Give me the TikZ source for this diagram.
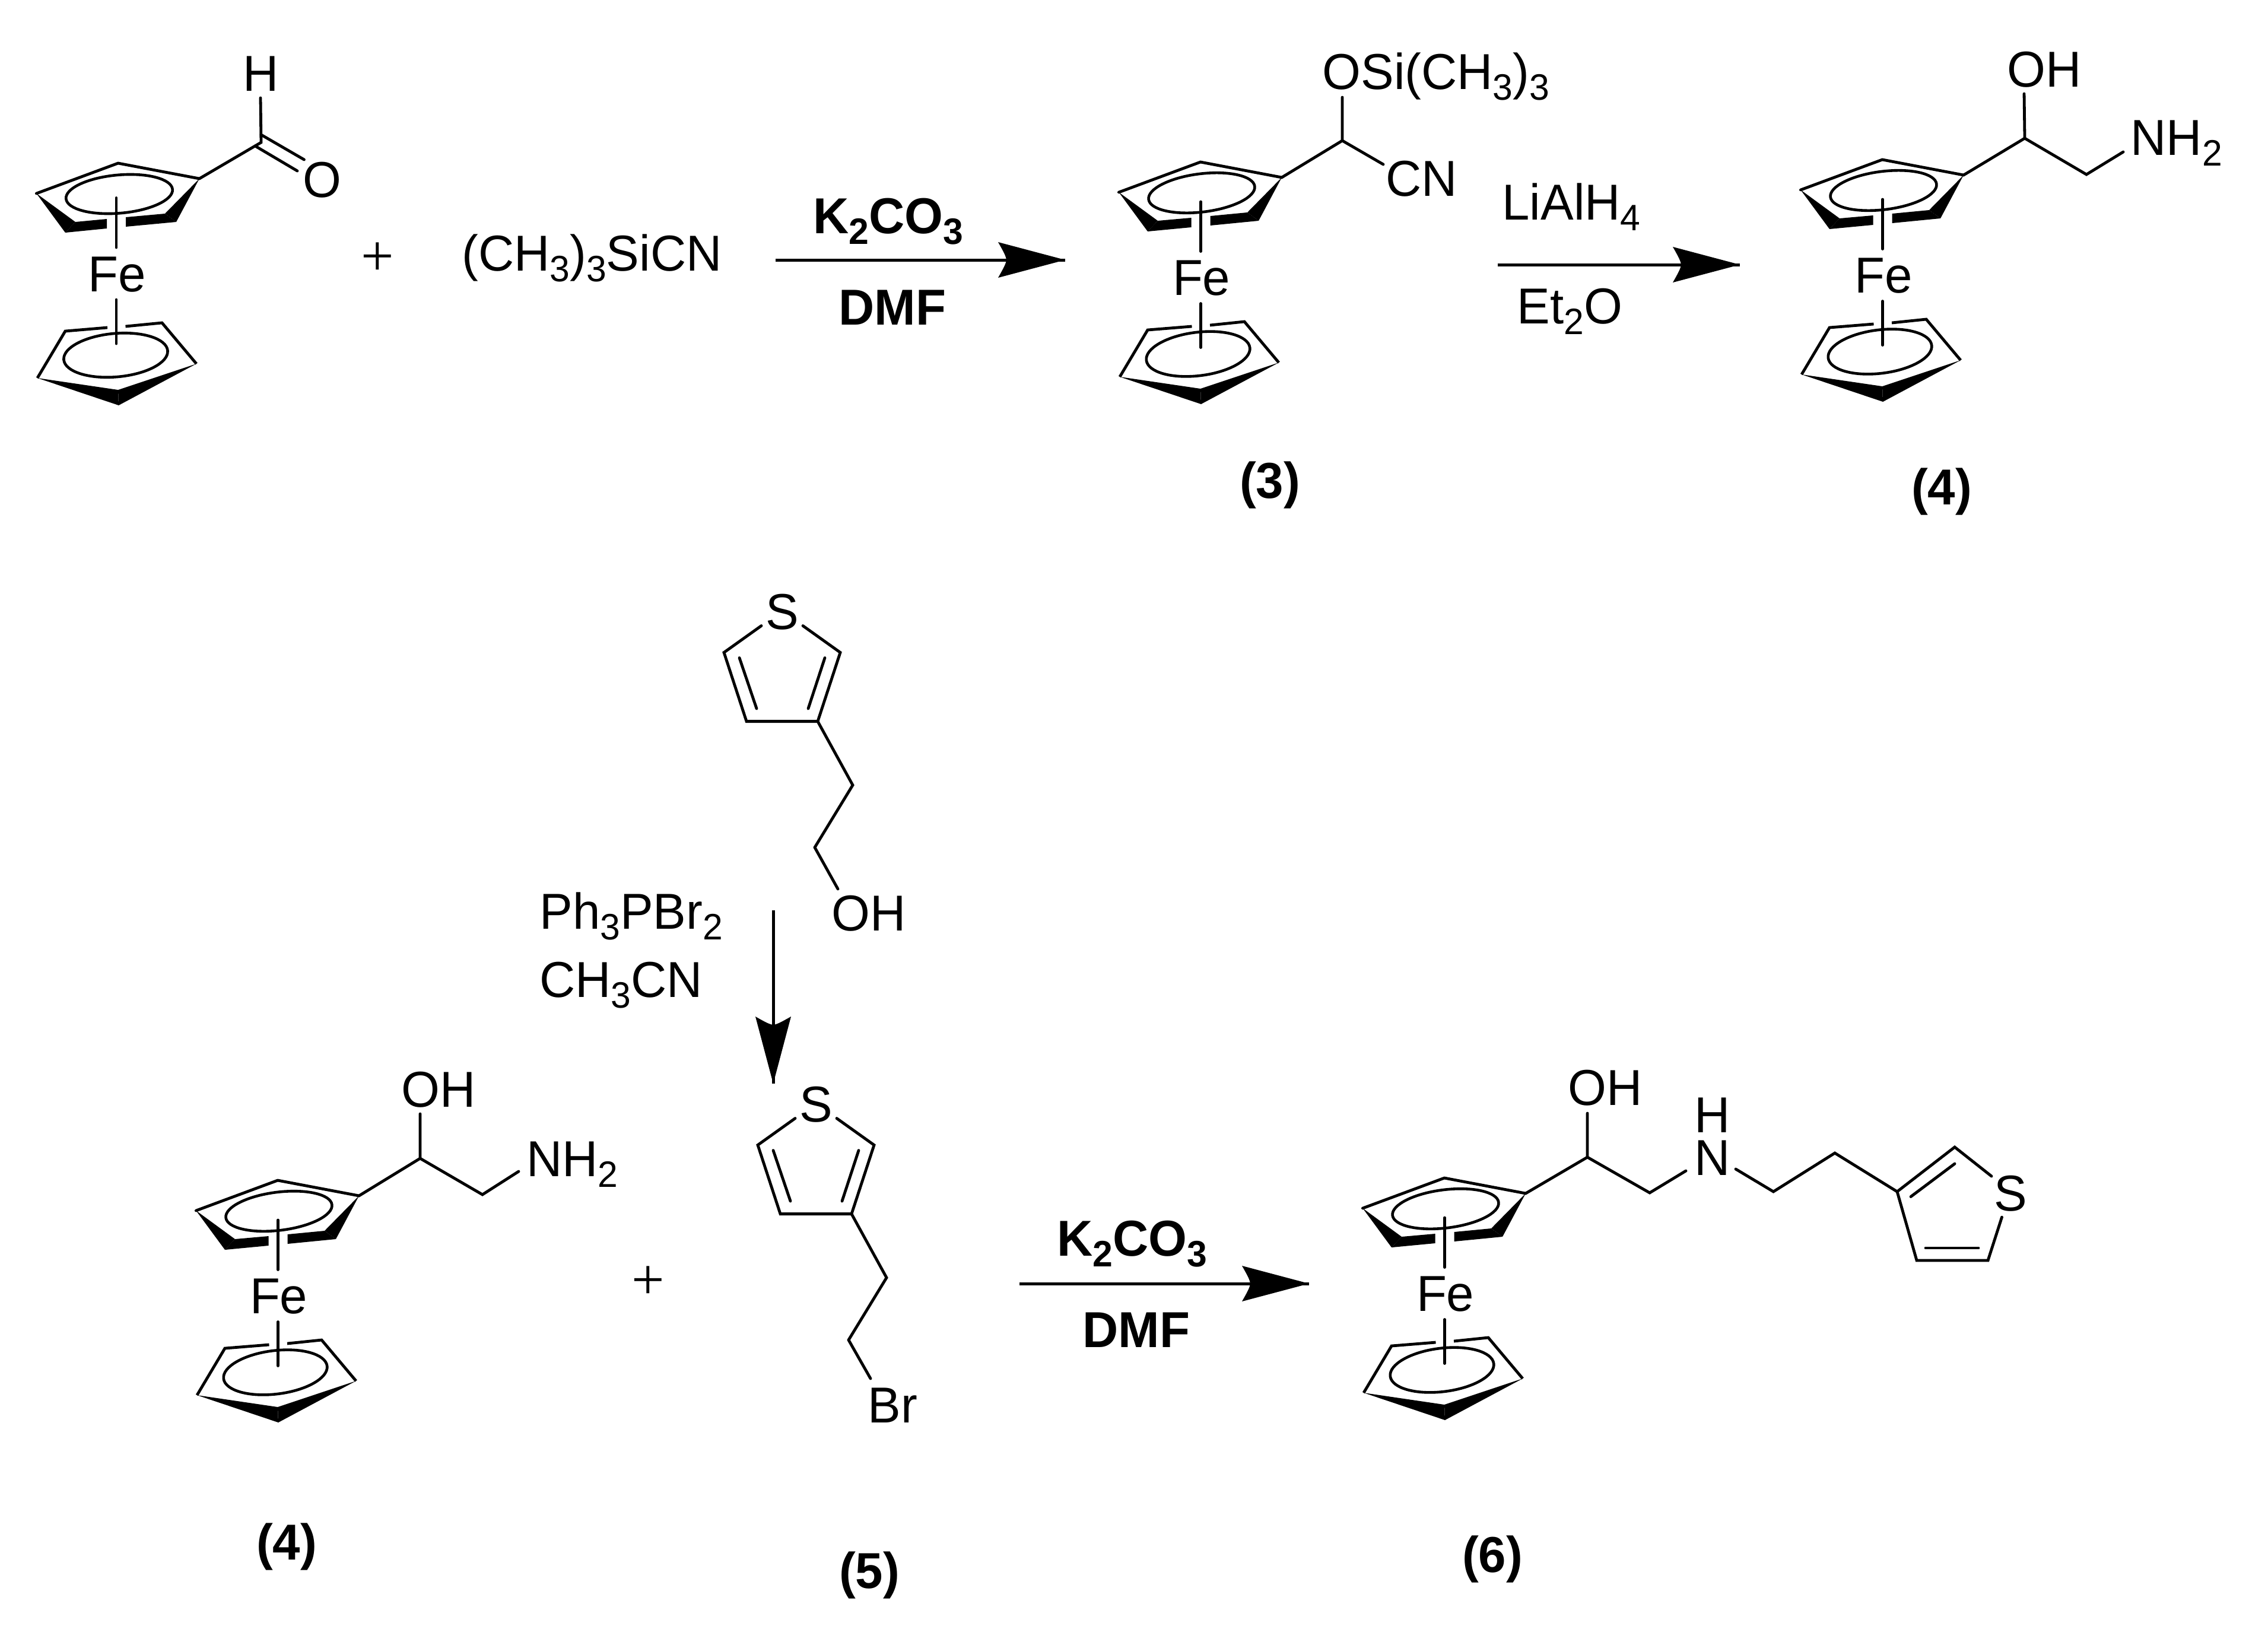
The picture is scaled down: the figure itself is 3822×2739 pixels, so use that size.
\documentclass[tikz,border=0pt]{standalone}
\usepackage{fontspec}
\setmainfont[FakeStretch=0.98]{Liberation Sans}
\newfontfamily\plusfont{Liberation Serif}
\newcommand{\sbs}[1]{\raisebox{-0.185cm}{\fontsize{17.6}{18}\selectfont #1}}
\tikzset{
  x=0.01cm,y=-0.01cm,
  bond/.style={line width=0.048cm,line cap=round,line join=miter,black},
  thinring/.style={line width=0.046cm,black},
  atom/.style={anchor=base west,inner sep=0pt,outer sep=0pt,xshift=-0.055cm,font=\fontsize{24.2}{26}\selectfont},
  reagent/.style={atom,font=\fontsize{24.2}{26}\selectfont\bfseries},
  cmpd/.style={anchor=center,inner sep=0pt,font=\fontsize{24.2}{26}\selectfont\bfseries},
  plussign/.style={inner sep=0pt,font=\fontsize{28}{28}\selectfont\plusfont},
  rxn/.style={line width=0.05cm,black},
}
% ferrocene: substituted vertex at (#2,#3); Fe axis offset (#4,#5); ellipse tilt #6
\newcommand{\ferrocene}[6]{%
\begin{scope}[shift={(#2,#3)}]
  \coordinate (#1c) at (0,0);
  \draw[bond,line join=round] (-274.6,25) -- (-137,-26) -- (#1c);
  \fill (-274.6,25) -- (-209,73) -- (-226,91) -- cycle;
  \fill (-209,73) -- (-226,91) -- (-156+#4,84) -- (-156+#4,68) -- cycle;
  \fill (-124+#4,65) -- (-124+#4,81) -- (-39,73) -- (-58,59) -- cycle;
  \fill (#1c) -- (-58,59) -- (-39,73) -- cycle;
  \draw[thinring,rotate around={#6:(-135,26)}] (-135,26) ellipse [x radius=0.90cm,y radius=0.322cm];
  \draw[bond] (-140+#4,32.5+#5) -- (-140+#4,116+#5);
  \node[atom] (#1fe) at (-182+#4,190+#5) {Fe};
  \draw[bond] (-140+#4,204+#5) -- (-140+#4,278+#5);
  \draw[bond,line cap=butt,line join=miter] (-155+#4,251) -- (-226,257) -- (-273,336);
  \draw[bond,line cap=butt,line join=miter] (-124.5+#4,249) -- (-63,243) -- (-5,312);
  \fill (-273,336) -- (-137,356) -- (-136,382) -- cycle;
  \fill (-5,312) -- (-137,356) -- (-136,382) -- cycle;
  \draw[thinring,rotate around={#6:(-141,297.5)}] (-141,297.5) ellipse [x radius=0.878cm,y radius=0.366cm];
\end{scope}}
% thiophene-3-yl ethyl with S centre near (#2,#3)
\newcommand{\thiophene}[3]{%
\begin{scope}[shift={(#2,#3)}]
  \node[atom,anchor=center,xshift=0.055cm] (#1s) at (0,0) {S};
  \draw[bond] (-35,23.5) -- (-98,68.5) -- (-60,184.6) -- (60,184.6) -- (98,68.5) -- (35,23.5);
  \draw[bond] (-72,77.5) -- (-43,163);
  \draw[bond] (72,77.5) -- (44,163);
  \draw[bond] (60,184.6) -- (119,292) -- (55,397);
\end{scope}}
% reaction arrow with a filled head
\newcommand{\rxnarrow}[3]{%
  \draw[rxn] (#1) -- (#2);
  \fill[shift={(#2)},rotate=#3] (0,0) -- (-113,-30) .. controls (-104,-14) and (-100,-7) .. (-99,0) .. controls (-100,7) and (-104,14) .. (-113,30) -- cycle;}
\begin{document}
\begin{tikzpicture}
\useasboundingbox (0,0) rectangle (3822,2739);
% --- top row: starting aldehyde
\ferrocene{fa}{336}{301}{0}{0}{5}
\node[atom] (ah) at (415,153) {H};
\node[atom] (ao) at (516,332) {O};
\draw[bond] (fac) -- (440,240) -- (439,165);
\draw[bond] (440,227) -- (512.5,269);
\draw[bond] (430,246) -- (501,288);
\node[plussign] (plusa) at (636,437) {+};
\node[atom] (tms) at (784,456) {(CH\sbs{3})\sbs{3}SiCN};
% arrow 1
\coordinate (a1s) at (1307,438); \coordinate (a1e) at (1795,438);
\rxnarrow{a1s}{a1e}{0}
\node[reagent] (k1) at (1376,393) {K\sbs{2}CO\sbs{3}};
\node[reagent] (d1) at (1419,547) {DMF};
% compound 3
\ferrocene{fb}{2160}{299}{3.5}{8.5}{7}
\coordinate (bch) at (2262,237);
\node[atom] (bosi) at (2234,150) {OSi(CH\sbs{3})\sbs{3}};
\node[atom] (bcn) at (2341,330) {CN};
\draw[bond] (fbc) -- (bch) -- (2262,164);
\draw[bond] (bch) -- (2331,277);
\node[cmpd] (c3) at (2140,817) {(3)};
% arrow 2
\coordinate (a2s) at (2524,446); \coordinate (a2e) at (2932,446);
\rxnarrow{a2s}{a2e}{0}
\node[atom] (lah) at (2537,370) {LiAlH\sbs{4}};
\node[atom] (et) at (2562,545) {Et\sbs{2}O};
% compound 4 (top)
\ferrocene{fc}{3309}{295}{3.5}{8.5}{7}
\coordinate (cch) at (3412,233);
\node[atom] (coh) at (3388,146) {OH};
\node[atom] (cnh) at (3596,261) {NH\sbs{2}};
\draw[bond] (fcc) -- (cch) -- (3411,158);
\draw[bond] (cch) -- (3516,294) -- (3578,256);
\node[cmpd] (c4a) at (3272,828) {(4)};
% thiophene ethanol
\thiophene{ta}{1318}{1031}
\node[atom] (toh) at (1407,1568) {OH};
\draw[bond] (1373,1428) -- (1412,1498);
\node[atom] (pph) at (915,1565) {Ph\sbs{3}PBr\sbs{2}};
\node[atom] (mecn) at (915,1680) {CH\sbs{3}CN};
% arrow 3
\coordinate (a3s) at (1303,1534); \coordinate (a3e) at (1303,1826);
\rxnarrow{a3s}{a3e}{-90}
% compound 4 (bottom)
\ferrocene{fd}{605}{2015}{3.5}{8.5}{7}
\coordinate (dch) at (708,1952);
\node[atom] (doh) at (682,1865) {OH};
\node[atom] (dnh) at (893,1982) {NH\sbs{2}};
\draw[bond] (fdc) -- (dch) -- (708,1877);
\draw[bond] (dch) -- (813,2013) -- (874,1974);
\node[plussign] (plusb) at (1092,2162) {+};
\node[cmpd] (c4b) at (483,2606) {(4)};
% compound 5
\thiophene{tb}{1375}{1861}
\node[atom] (br) at (1468,2397) {Br};
\draw[bond] (1430,2258) -- (1467,2323);
\node[cmpd] (c5) at (1465,2654) {(5)};
% arrow 4
\coordinate (a4s) at (1718,2163); \coordinate (a4e) at (2206,2163);
\rxnarrow{a4s}{a4e}{0}
\node[reagent] (k2) at (1787,2116) {K\sbs{2}CO\sbs{3}};
\node[reagent] (d2) at (1830,2270) {DMF};
% compound 6
\ferrocene{fe}{2571}{2011}{3.5}{8.5}{7}
\coordinate (ech) at (2675,1950);
\node[atom] (eoh) at (2648,1862) {OH};
\node[atom] (eh) at (2861,1908) {H};
\node[atom] (en) at (2861,1980) {N};
\node[atom] (es) at (3366,2040) {S};
\draw[bond] (fec) -- (ech) -- (2675,1876);
\draw[bond] (ech) -- (2780,2010) -- (2841,1973);
\draw[bond] (2925,1970) -- (2988.5,2008) -- (3092,1943) -- (3197,2008);
\draw[bond] (3356,1982) -- (3294,1933) -- (3197,2008) -- (3230,2124) -- (3350,2124) -- (3373.5,2051);
\draw[bond] (3220,2016.5) -- (3294,1961);
\draw[bond] (3245,2103) -- (3334,2103);
\node[cmpd] (c6) at (2515,2627) {(6)};
\end{tikzpicture}
\end{document}
